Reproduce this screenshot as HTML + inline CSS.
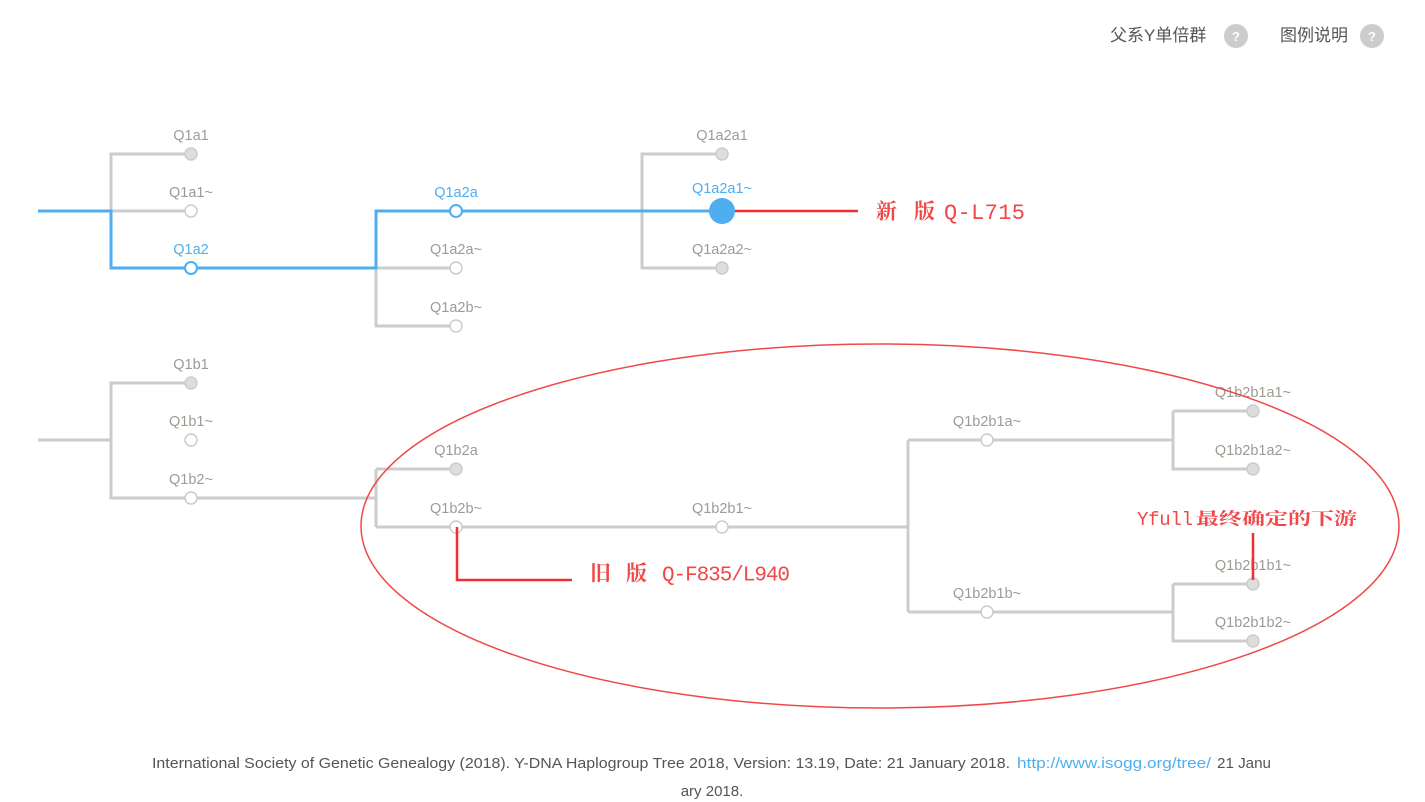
<!DOCTYPE html>
<html><head><meta charset="utf-8"><style>
body{margin:0;background:#fff;width:1425px;height:802px;overflow:hidden}
svg{display:block}
.l{font-family:"Liberation Sans","Noto Sans CJK SC",sans-serif;font-size:14.5px;fill:#a09a95;text-anchor:middle}
.b{fill:#4eaef0}
</style></head><body>
<svg width="1425" height="802" viewBox="0 0 1425 802">
<g fill="none" stroke-width="3" stroke="#cccccc">
<path d="M191 154H111V268"/><path d="M111 211H191"/>
<path d="M456 268H376M376 211V326H456"/>
<path d="M722 154H642V268H722"/>
<path d="M38 440H111M191 383H111V498H376M376 469V527M456 469H376M376 527H908M908 440V612M987 440H908M908 612H1173M1173 584V641H1253M1253 584H1173M987 440H1173M1173 411V469H1253M1253 411H1173"/>
</g>
<path d="M38 211H111V268H376V211H722" fill="none" stroke="#4eaef0" stroke-width="3"/>
<g stroke="#cccccc" stroke-width="1.5">
<circle cx="191" cy="154" r="6" fill="#dddddd"/>
<circle cx="191" cy="211" r="6" fill="#fff"/>
<circle cx="456" cy="268" r="6" fill="#fff"/>
<circle cx="456" cy="326" r="6" fill="#fff"/>
<circle cx="722" cy="154" r="6" fill="#dddddd"/>
<circle cx="722" cy="268" r="6" fill="#dddddd"/>
<circle cx="191" cy="383" r="6" fill="#dddddd"/>
<circle cx="191" cy="440" r="6" fill="#fff"/>
<circle cx="191" cy="498" r="6" fill="#fff"/>
<circle cx="456" cy="469" r="6" fill="#dddddd"/>
<circle cx="456" cy="527" r="6" fill="#fff"/>
<circle cx="722" cy="527" r="6" fill="#fff"/>
<circle cx="987" cy="440" r="6" fill="#fff"/>
<circle cx="987" cy="612" r="6" fill="#fff"/>
<circle cx="1253" cy="411" r="6" fill="#dddddd"/>
<circle cx="1253" cy="469" r="6" fill="#dddddd"/>
<circle cx="1253" cy="584" r="6" fill="#dddddd"/>
<circle cx="1253" cy="641" r="6" fill="#dddddd"/>
</g>
<g stroke="#4eaef0" stroke-width="2" fill="#fff">
<circle cx="191" cy="268" r="6"/><circle cx="456" cy="211" r="6"/>
</g>
<circle cx="722" cy="211" r="13" fill="#4eaef0"/>
<g class="l">
<text x="191" y="140">Q1a1</text>
<text x="191" y="197">Q1a1~</text>
<text x="191" y="254" class="l b">Q1a2</text>
<text x="456" y="197" class="l b">Q1a2a</text>
<text x="456" y="254">Q1a2a~</text>
<text x="456" y="312">Q1a2b~</text>
<text x="722" y="140">Q1a2a1</text>
<text x="722" y="193" class="l b">Q1a2a1~</text>
<text x="722" y="254">Q1a2a2~</text>
<text x="191" y="369">Q1b1</text>
<text x="191" y="426">Q1b1~</text>
<text x="191" y="484">Q1b2~</text>
<text x="456" y="455">Q1b2a</text>
<text x="456" y="513">Q1b2b~</text>
<text x="722" y="513">Q1b2b1~</text>
<text x="987" y="426">Q1b2b1a~</text>
<text x="987" y="598">Q1b2b1b~</text>
<text x="1253" y="397">Q1b2b1a1~</text>
<text x="1253" y="455">Q1b2b1a2~</text>
<text x="1253" y="570">Q1b2b1b1~</text>
<text x="1253" y="627">Q1b2b1b2~</text>
</g>
<ellipse cx="880" cy="526" rx="519" ry="182" fill="none" stroke="#f04848" stroke-width="1.5"/>
<path d="M735 211H858M457 527V580H572M1253 533V580" fill="none" stroke="#f03030" stroke-width="2.5"/>
<g fill="#f04848">
<text x="876" y="213" dominant-baseline="middle" font-family="'Noto Serif CJK SC','Noto Sans CJK SC',serif" font-weight="bold" font-size="21" textLength="59">新版</text>
<text x="944" y="213" dominant-baseline="middle" font-family="'Liberation Mono',monospace" font-size="22" textLength="81">Q-L715</text>
<text x="590" y="575" dominant-baseline="middle" font-family="'Noto Serif CJK SC','Noto Sans CJK SC',serif" font-weight="bold" font-size="21" textLength="57">旧版</text>
<text x="662" y="575" dominant-baseline="middle" font-family="'Liberation Mono',monospace" font-size="21" textLength="128">Q-F835/L940</text>
<text x="1137" y="520" dominant-baseline="middle" font-family="'Liberation Mono',monospace" font-size="19" textLength="56">Yfull</text>
<text x="1196" y="520" dominant-baseline="middle" font-family="'Noto Serif CJK SC','Noto Sans CJK SC',serif" font-weight="bold" font-size="17" textLength="161" lengthAdjust="spacingAndGlyphs">最终确定的下游</text>
</g>
<g font-family="'Liberation Sans','Noto Sans CJK SC',sans-serif" font-size="17" fill="#555">
<text x="1110" y="41">父系Y单倍群</text>
<text x="1280" y="41">图例说明</text>
</g>
<circle cx="1236" cy="36" r="12" fill="#cccccc"/><circle cx="1372" cy="36" r="12" fill="#cccccc"/>
<g font-family="'Liberation Sans',sans-serif" font-size="13" fill="#fff" text-anchor="middle" font-weight="bold">
<text x="1236" y="41">?</text><text x="1372" y="41">?</text></g>
<g font-family="'Liberation Sans',sans-serif" font-size="15" fill="#555">
<text x="152" y="768" textLength="858" lengthAdjust="spacingAndGlyphs">International Society of Genetic Genealogy (2018). Y-DNA Haplogroup Tree 2018, Version: 13.19, Date: 21 January 2018.</text>
<text x="1017" y="768" fill="#4eaef0" textLength="194" lengthAdjust="spacingAndGlyphs">http://www.isogg.org/tree/</text>
<text x="1217" y="768" textLength="54" lengthAdjust="spacingAndGlyphs">21 Janu</text>
<text x="712" y="796" text-anchor="middle">ary 2018.</text>
</g>
</svg>
</body></html>
